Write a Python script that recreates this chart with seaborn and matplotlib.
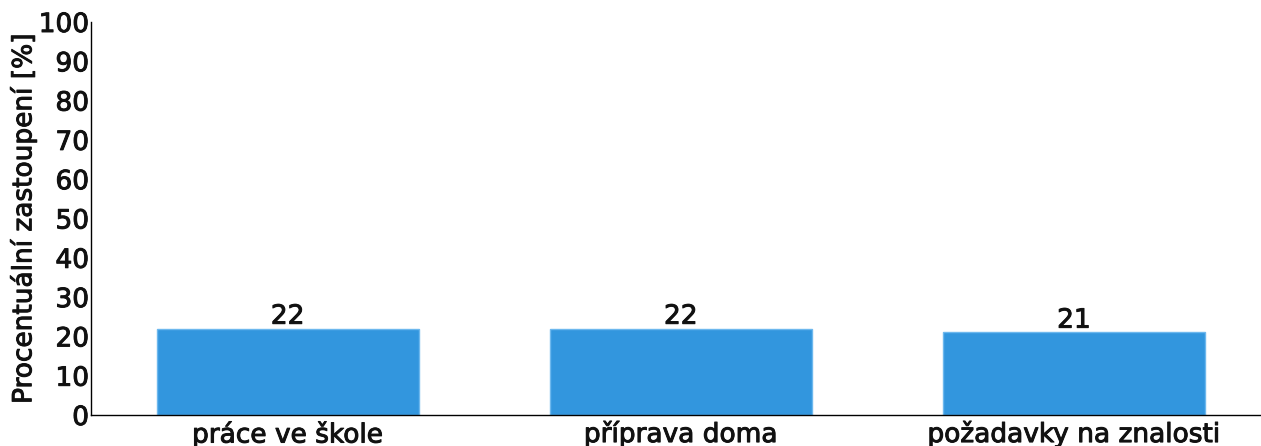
import pandas as pd
import matplotlib
matplotlib.use('Agg')
import matplotlib.pyplot as plt
import matplotlib.patheffects as pe
import seaborn as sns

categories = ['práce ve škole', 'příprava doma', 'požadavky na znalosti']
values = [22, 22, 21]
y_label = 'Procentuální zastoupení [%]'

df = pd.DataFrame({'kategorie': categories, 'procenta': values})

sns.set_style('white')
plt.rcParams['font.family'] = ['DejaVu Sans']

fig = plt.figure(figsize=(12.61, 4.46), dpi=100)
ax = fig.add_axes([0.0722, 0.0695, 0.9278, 0.8812])

sns.barplot(data=df, x='kategorie', y='procenta', color='#3296de',
            width=0.667, saturation=1, edgecolor='#6db8ee', linewidth=1, ax=ax)

# slightly heavier text like in the original render
heavy = [pe.withStroke(linewidth=0.7, foreground='#111111')]

for i, v in enumerate(values):
    ax.text(i, v - 0.3, str(v), ha='center', va='bottom', fontsize=19,
            color='#111111', path_effects=heavy)

ax.set_ylim(0, 100)
ax.set_xlim(-0.5, 2.476)
ax.set_yticks(range(0, 101, 10))
ax.set_xlabel('')
ax.set_ylabel(y_label, fontsize=19, color='#111111', labelpad=1, path_effects=heavy)
ax.tick_params(axis='y', labelsize=19, length=7, width=1, colors='black',
               labelcolor='#111111', direction='inout', pad=-2)
ax.tick_params(axis='x', labelsize=19, length=3, width=1, colors='black',
               labelcolor='#111111', direction='out', pad=1)
for lab in ax.get_xticklabels() + ax.get_yticklabels():
    lab.set_path_effects(heavy)
sns.despine(ax=ax)
for s in ['left', 'bottom']:
    ax.spines[s].set_color('black')
    ax.spines[s].set_linewidth(1)

fig.savefig('out.png', dpi=100)
